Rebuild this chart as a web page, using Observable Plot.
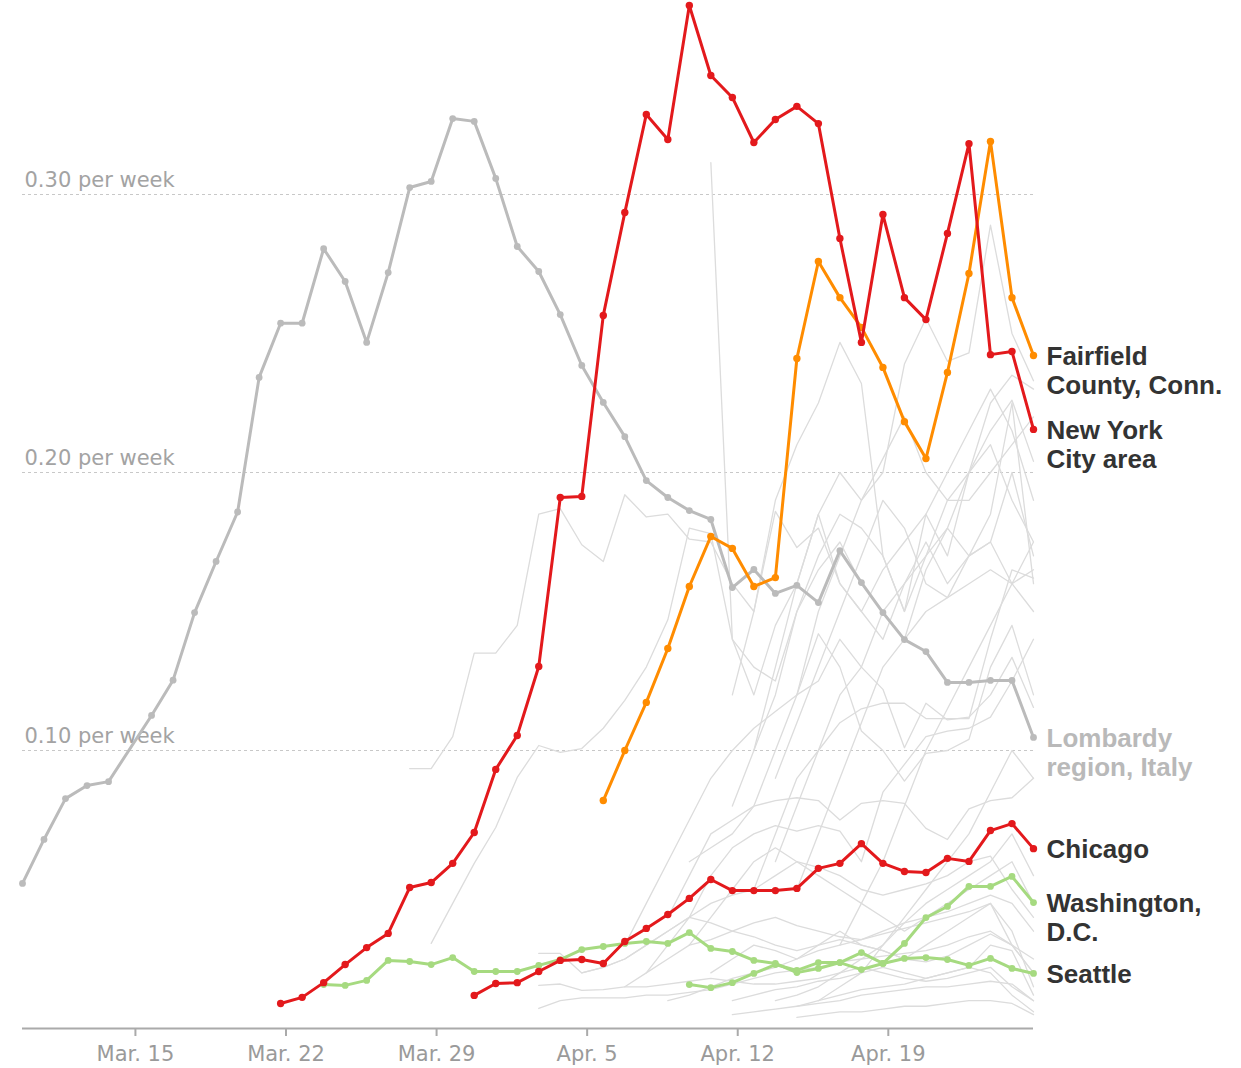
<!DOCTYPE html>
<html><head><meta charset="utf-8">
<script src="https://cdn.jsdelivr.net/npm/d3@7"></script>
<script src="https://cdn.jsdelivr.net/npm/@observablehq/plot@0.6"></script>
<style>
html,body{margin:0;padding:0;background:#fff;}
#chart svg{display:block;}
</style></head><body><div id="chart"></div>
<script>
// Day 0 = Mar. 10, 2020; one value per day
const firstDay = Date.UTC(2020, 2, 10);

const lombardyStart = 0;
const lombardyValues = [0.0522,0.0680,0.0827,0.0874,0.0888,null,0.1126,0.1253,0.1496,0.1680,
  0.1858,0.2342,0.2537,0.2537,0.2805,0.2687,0.2468,0.2719,0.3025,0.3047,
  0.3273,0.3263,0.3058,0.2813,0.2723,0.2568,0.2385,0.2252,0.2129,0.1971,
  0.1910,0.1863,0.1831,0.1586,0.1651,0.1565,0.1594,0.1532,0.1719,0.1604,
  0.1496,0.1399,0.1356,0.1245,0.1245,0.1252,0.1252,0.1047];

const nycStart = 12;
const nycValues = [0.0090,0.0112,0.0165,0.0230,0.0291,0.0342,0.0507,0.0525,0.0594,0.0705,
  0.0932,0.1054,0.1302,0.1910,0.1914,0.2565,0.2935,0.3288,0.3198,0.3680,
  0.3428,0.3349,0.3187,0.3270,0.3317,0.3255,0.2842,0.2468,0.2928,0.2629,
  0.2550,0.2860,0.3183,0.2424,0.2435,0.2155];

const fairfieldStart = 27;
const fairfieldValues = [0.0820,0.1000,0.1173,0.1367,0.1590,0.1770,0.1727,0.1590,0.1622,0.2410,
  0.2759,0.2629,0.2522,0.2378,0.2183,0.2050,0.2360,0.2716,0.3191,0.2629,0.2421];

const chicagoStart = 21;
const chicagoValues = [0.0119,0.0162,0.0165,0.0205,0.0245,0.0248,0.0234,0.0313,0.0360,0.0410,
  0.0468,0.0536,0.0496,0.0496,0.0496,0.0504,0.0576,0.0594,0.0665,0.0594,
  0.0565,0.0561,0.0612,0.0601,0.0712,0.0737,0.0647];

const seattleStart = 14;
const seattleValues = [0.0158,0.0155,0.0173,0.0245,0.0241,0.0230,0.0255,0.0205,0.0205,0.0205,
  0.0227,0.0248,0.0284,0.0295,0.0306,0.0313,0.0306,0.0345,0.0288,0.0277,
  0.0245,0.0234,0.0201,0.0216,0.0237,0.0212,0.0234,0.0252,0.0255,0.0248,
  0.0227,0.0252,0.0216,0.0198];

const dcStart = 31;
const dcValues = [0.0158,0.0147,0.0165,0.0198,0.0230,0.0209,0.0237,0.0237,0.0273,0.0234,
  0.0306,0.0399,0.0439,0.0511,0.0511,0.0547,0.0453];

// Other metro areas (background)
const otherStarts = [18,19,32,33,36,34,28,30,29,31,35,24,24,24,26,30,33,35,36,28,32,37,38,33,34,35,36,33,31,36];
const otherValues = [
  [0.0935,0.0935,0.105,0.135,0.135,0.145,0.185,0.187,0.174,0.168,0.192,0.184,0.185,0.176,0.175,0.16,0.15,0.186,0.173,0.18,0.16,0.15,0.165,0.175,0.185,0.2,0.215,0.23,0.215,0.19],
  [0.0306,0.045,0.0594,0.0723,0.0903,0.1018,0.0993,0.1007,0.108,0.118,0.13,0.147,0.18,0.178,0.14,0.12,0.145,0.16,0.185,0.2,0.19,0.205,0.22,0.2,0.19,0.2,0.225,0.235,0.23],
  [0.3115,0.14,0.13,0.125,0.15,0.165,0.175,0.16,0.15,0.14,0.165,0.18,0.17,0.175,0.16,0.15],
  [0.12,0.15,0.19,0.21,0.225,0.2468,0.232,0.17,0.15,0.185,0.17,0.2,0.21,0.19,0.175],
  [0.12,0.15,0.17,0.19,0.2,0.239,0.2554,0.24,0.243,0.289,0.25,0.233],
  [0.05,0.07,0.09,0.1,0.12,0.13,0.15,0.16,0.17,0.18,0.2,0.215,0.226,0.204],
  [0.03,0.045,0.06,0.075,0.09,0.1,0.108,0.114,0.12,0.125,0.14,0.13,0.122,0.101,0.117,0.111,0.112,0.12,0.1335,0.1155],
  [0.04,0.055,0.07,0.075,0.08,0.082,0.083,0.082,0.075,0.081,0.082,0.081,0.072,0.068,0.079,0.082,0.083,0.09],
  [0.02,0.03,0.04,0.055,0.065,0.07,0.073,0.071,0.073,0.071,0.06,0.085,0.095,0.105,0.107,0.108,0.112,0.125,0.14],
  [0.06,0.065,0.07,0.08,0.1,0.12,0.142,0.13,0.107,0.1,0.089,0.099,0.1,0.104,0.13,0.145,0.12],
  [0.06,0.08,0.1,0.11,0.115,0.117,0.117,0.1115,0.1115,0.1115,0.14,0.165,0.162],
  [0.0072,0.01,0.011,0.011,0.011,0.012,0.012,0.013,0.014,0.016,0.018,0.02,0.021,0.022,0.024,0.025,0.026,0.027,0.028,0.03,0.033,0.035,0.03,0.025],
  [0.0155,0.016,0.0137,0.014,0.015,0.015,0.016,0.017,0.018,0.017,0.016,0.016,0.017,0.018,0.02,0.022,0.02,0.018,0.017,0.018,0.02,0.022,0.015,0.01],
  [0.027,0.027,0.02,0.022,0.025,0.03,0.035,0.04,0.038,0.035,0.033,0.03,0.028,0.03,0.032,0.03,0.028,0.025,0.024,0.026,0.03,0.034,0.03,0.02],
  [0.02,0.022,0.025,0.03,0.035,0.04,0.045,0.048,0.05,0.055,0.06,0.058,0.055,0.05,0.048,0.05,0.052,0.055,0.06,0.062,0.05,0.04],
  [0.01,0.012,0.015,0.018,0.02,0.022,0.025,0.028,0.03,0.032,0.035,0.038,0.04,0.042,0.045,0.048,0.045,0.035],
  [0.005,0.006,0.007,0.008,0.009,0.01,0.012,0.013,0.014,0.015,0.015,0.016,0.017,0.016,0.01],
  [0.01,0.012,0.015,0.02,0.025,0.03,0.038,0.045,0.05,0.055,0.06,0.07,0.055],
  [0.004,0.005,0.006,0.006,0.007,0.008,0.008,0.009,0.01,0.01,0.009,0.005],
  [0.015,0.02,0.025,0.03,0.04,0.05,0.06,0.065,0.06,0.055,0.05,0.045,0.04,0.035,0.04,0.045,0.05,0.055,0.06,0.045],
  [0.02,0.025,0.03,0.028,0.025,0.03,0.035,0.03,0.028,0.025,0.03,0.035,0.04,0.045,0.03,0.02],
  [0.01,0.015,0.02,0.03,0.04,0.05,0.06,0.07,0.085,0.1,0.09],
  [0.03,0.045,0.06,0.08,0.1,0.115,0.13,0.145,0.16,0.175],
  [0.08,0.1,0.12,0.15,0.17,0.185,0.18,0.17,0.15,0.17,0.19,0.19,0.2,0.21,0.22],
  [0.1,0.13,0.16,0.185,0.16,0.15,0.14,0.16,0.175,0.16,0.17,0.175,0.2,0.17],
  [0.09,0.11,0.13,0.15,0.17,0.19,0.18,0.16,0.155,0.17,0.185,0.225,0.16],
  [0.05,0.07,0.09,0.11,0.13,0.14,0.15,0.155,0.16,0.165,0.16,0.165],
  [0.01,0.012,0.014,0.015,0.017,0.018,0.02,0.022,0.02,0.018,0.02,0.022,0.02,0.012,0.006],
  [0.03,0.032,0.035,0.038,0.04,0.037,0.035,0.033,0.032,0.034,0.036,0.038,0.04,0.042,0.045,0.035,0.015],
  [0.008,0.01,0.012,0.014,0.015,0.016,0.018,0.02,0.022,0.03,0.028,0.012]
];

const gridValues = [0.10, 0.20, 0.30];
const tickDays = ["2020-03-15","2020-03-22","2020-03-29","2020-04-05","2020-04-12","2020-04-19"];
const monthNames = ["Jan.","Feb.","Mar.","Apr.","May","June"];

const seriesNames = ["Lombardy","Seattle","Washington","Chicago","Fairfield","New York"];
const seriesLabels = ["Lombardy\nregion, Italy","Seattle","Washington,\nD.C.","Chicago","Fairfield\nCounty, Conn.","New York\nCity area"];
const seriesColors = ["#bbbbbb","#a6da80","#a6da80","#e3191c","#ff8c00","#e3191c"];
const labelColors = ["#b9b9b9","#333333","#333333","#333333","#333333","#333333"];

// ---- build tables ----
const DAY = 864e5, SHIFT = 6 * 3600e3;
const dayDate = k => new Date(firstDay + k * DAY - SHIFT);
function rows(name, start, values) {
  return values.map((v, i) => ({name, date: dayDate(start + i), value: v})).filter(d => d.value != null);
}
const seriesData = [
  rows(seriesNames[0], lombardyStart, lombardyValues),
  rows(seriesNames[1], seattleStart, seattleValues),
  rows(seriesNames[2], dcStart, dcValues),
  rows(seriesNames[3], chicagoStart, chicagoValues),
  rows(seriesNames[4], fairfieldStart, fairfieldValues),
  rows(seriesNames[5], nycStart, nycValues)
];
const otherData = otherValues.flatMap((vals, j) => rows("other" + j, otherStarts[j], vals));
const endLabels = seriesData.map((s, i) => ({...s[s.length - 1], label: seriesLabels[i], color: labelColors[i]}));

const xDomain = [dayDate(0), dayDate(47)];
const ticks = tickDays.map(s => new Date(s + "T00:00:00Z"));
const fmt = d => monthNames[d.getUTCMonth()] + " " + d.getUTCDate();
const axisFont = "'DejaVu Sans', Verdana, sans-serif";

const marks = [
  Plot.ruleY(gridValues, {stroke: "#c8c8c8", strokeWidth: 1, strokeDasharray: "3,3"}),
  Plot.text(gridValues, {x: () => xDomain[0], y: d => d, text: d => d.toFixed(2) + " per week",
    textAnchor: "start", lineAnchor: "bottom", dx: 2, dy: -8, fill: "#a3a3a3", fontSize: 21, fontFamily: axisFont}),
  Plot.line(otherData, {x: "date", y: "value", z: "name", stroke: "#dcdcdc", strokeWidth: 1.3})
];
seriesData.forEach((s, i) => {
  marks.push(Plot.line(s, {x: "date", y: "value", stroke: seriesColors[i], strokeWidth: 3}));
  marks.push(Plot.dot(s, {x: "date", y: "value", fill: seriesColors[i], r: i >= 3 ? 3.7 : 3.4}));
});
marks.push(
  Plot.ruleY([0], {stroke: "#aaaaaa", strokeWidth: 2}),
  Plot.axisX({ticks, tickFormat: fmt, tickSize: 8, tickPadding: 10, stroke: "#aaaaaa", strokeWidth: 2,
    fill: "#9a9a9a", fontSize: 21, fontFamily: axisFont}),
  Plot.text(endLabels, {x: "date", y: "value", text: "label", fill: "color", textAnchor: "start",
    lineAnchor: "top", dx: 13, dy: -11, fontSize: 26, fontWeight: "bold", lineHeight: 1.115})
);

const chart = Plot.plot({
  width: 1241, height: 1068,
  marginLeft: 22, marginRight: 208, marginTop: 0, marginBottom: 40,
  style: {fontFamily: "'Liberation Sans', Arial, sans-serif", background: "#fff", overflow: "visible"},
  x: {type: "utc", domain: xDomain},
  y: {domain: [0, 1028 / 2780], axis: null},
  marks
});
document.getElementById("chart").appendChild(chart);
</script>
</body></html>
